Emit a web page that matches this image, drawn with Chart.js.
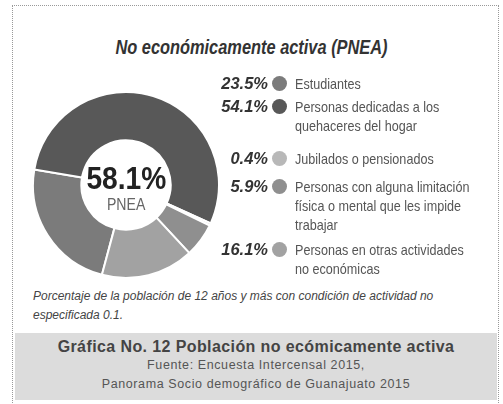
<!DOCTYPE html>
<html>
<head>
<meta charset="utf-8">
<script src="https://cdn.jsdelivr.net/npm/chart.js@4.4.0/dist/chart.umd.min.js"></script>
<style>
  html, body { margin: 0; padding: 0; background: #fff; }
  #page { position: relative; width: 503px; height: 404px; overflow: hidden; font-family: "Liberation Sans", Arial, sans-serif; color: #444; }
  #frame { position: absolute; left: 12px; top: 5px; width: 487px; height: 420px; border: 1px dotted #999; box-sizing: border-box; }
  .sq { display: inline-block; white-space: nowrap; }
  #title { position: absolute; left: 0; width: 503px; top: 35px; text-align: center; font-size: 21px; font-weight: bold; font-style: italic; color: #333; }
  #title .sq { transform: scaleX(0.78); }
  #pie { position: absolute; left: 32px; top: 91px; width: 188px; height: 188px; }
  #center { position: absolute; left: 66px; width: 120px; top: 160px; text-align: center; }
  #center .big { font-size: 32px; font-weight: bold; color: #222; line-height: 36px; }
  #center .big .sq { transform: scaleX(0.88); }
  #center .small { font-size: 17px; color: #666; line-height: 18px; }
  #center .small .sq { transform: scaleX(0.83); }
  #legend { position: absolute; left: 212px; top: 74px; width: 290px; }
  .item { display: flex; align-items: flex-start; margin-bottom: 9px; }
  .item:nth-child(1) { margin-bottom: 4px; }
  .item:nth-child(2) { margin-bottom: 14px; }
  .item:nth-child(4) { margin-bottom: 6px; }
  .pct { width: 56px; text-align: right; font-weight: bold; font-style: italic; font-size: 16.5px; line-height: 19px; color: #333; }
  .dot { width: 15px; height: 15px; border-radius: 50%; margin: 2px 8px 0 4px; flex: none; }
  .lab { font-size: 15px; line-height: 19px; color: #555; width: 200px; white-space: nowrap; }
  .lab .sq { transform: scaleX(0.84); transform-origin: left center; display: block; }
  #note { position: absolute; left: 33px; top: 287px; font-size: 12px; line-height: 19px; font-style: italic; color: #444; }
  #note .sq { display: block; }
  #caption { position: absolute; left: 15px; top: 333px; width: 482px; height: 67px; background: #dcdcdc; text-align: center; }
  #caption .head { font-weight: bold; font-size: 16px; letter-spacing: 0.4px; color: #444; margin-top: 4px; line-height: 19px; }
  #caption .src { font-size: 12.5px; letter-spacing: 0.6px; color: #555; line-height: 19px; }
</style>
</head>
<body>
<div id="page">
  <div id="frame"></div>
  <div id="title"><span class="sq">No económicamente activa (PNEA)</span></div>
  <canvas id="pie" width="188" height="188"></canvas>
  <div id="center"><div class="big"><span class="sq">58.1%</span></div><div class="small"><span class="sq">PNEA</span></div></div>
  <div id="legend"></div>
  <div id="note"><span class="sq">Porcentaje de la población de 12 años y más con condición de actividad no</span><span class="sq">especificada 0.1.</span></div>
  <div id="caption">
    <div class="head">Gráfica No. 12 Población no ecómicamente activa</div>
    <div class="src">Fuente: Encuesta Intercensal 2015,</div>
    <div class="src">Panorama Socio demográfico de Guanajuato 2015</div>
  </div>
</div>
<script>
// data, legend order
var categories = [
  ["Estudiantes"],
  ["Personas dedicadas a los", "quehaceres del hogar"],
  ["Jubilados o pensionados"],
  ["Personas con alguna limitación", "física o mental que les impide", "trabajar"],
  ["Personas en otras actividades", "no económicas"]
];
var values = [23.5, 54.1, 0.4, 5.9, 16.1];
var colors = ["#7b7b7b", "#585858", "#b8b8b8", "#8f8f8f", "#a2a2a2"];

// legend
var html = "";
for (var i = 0; i < values.length; i++) {
  var lines = "";
  for (var j = 0; j < categories[i].length; j++) {
    lines += "<span class='sq'>" + categories[i][j] + "</span>";
  }
  html += "<div class='item'><span class='pct'>" + values[i].toFixed(1) + "%</span>" +
    "<span class='dot' style='background:" + colors[i] + "'></span>" +
    "<span class='lab'>" + lines + "</span></div>";
}
document.getElementById("legend").innerHTML = html;

var ctx = document.getElementById("pie").getContext("2d");
new Chart(ctx, {
  type: "doughnut",
  data: {
    labels: categories.map(function (c) { return c.join(" "); }),
    datasets: [{
      data: values,
      backgroundColor: colors,
      borderColor: "#ffffff",
      borderWidth: 2
    }]
  },
  options: {
    responsive: false,
    animation: false,
    rotation: 195,
    cutout: "48%",
    layout: { padding: 0 },
    plugins: { legend: { display: false }, tooltip: { enabled: false } }
  }
});
</script>
</body>
</html>
